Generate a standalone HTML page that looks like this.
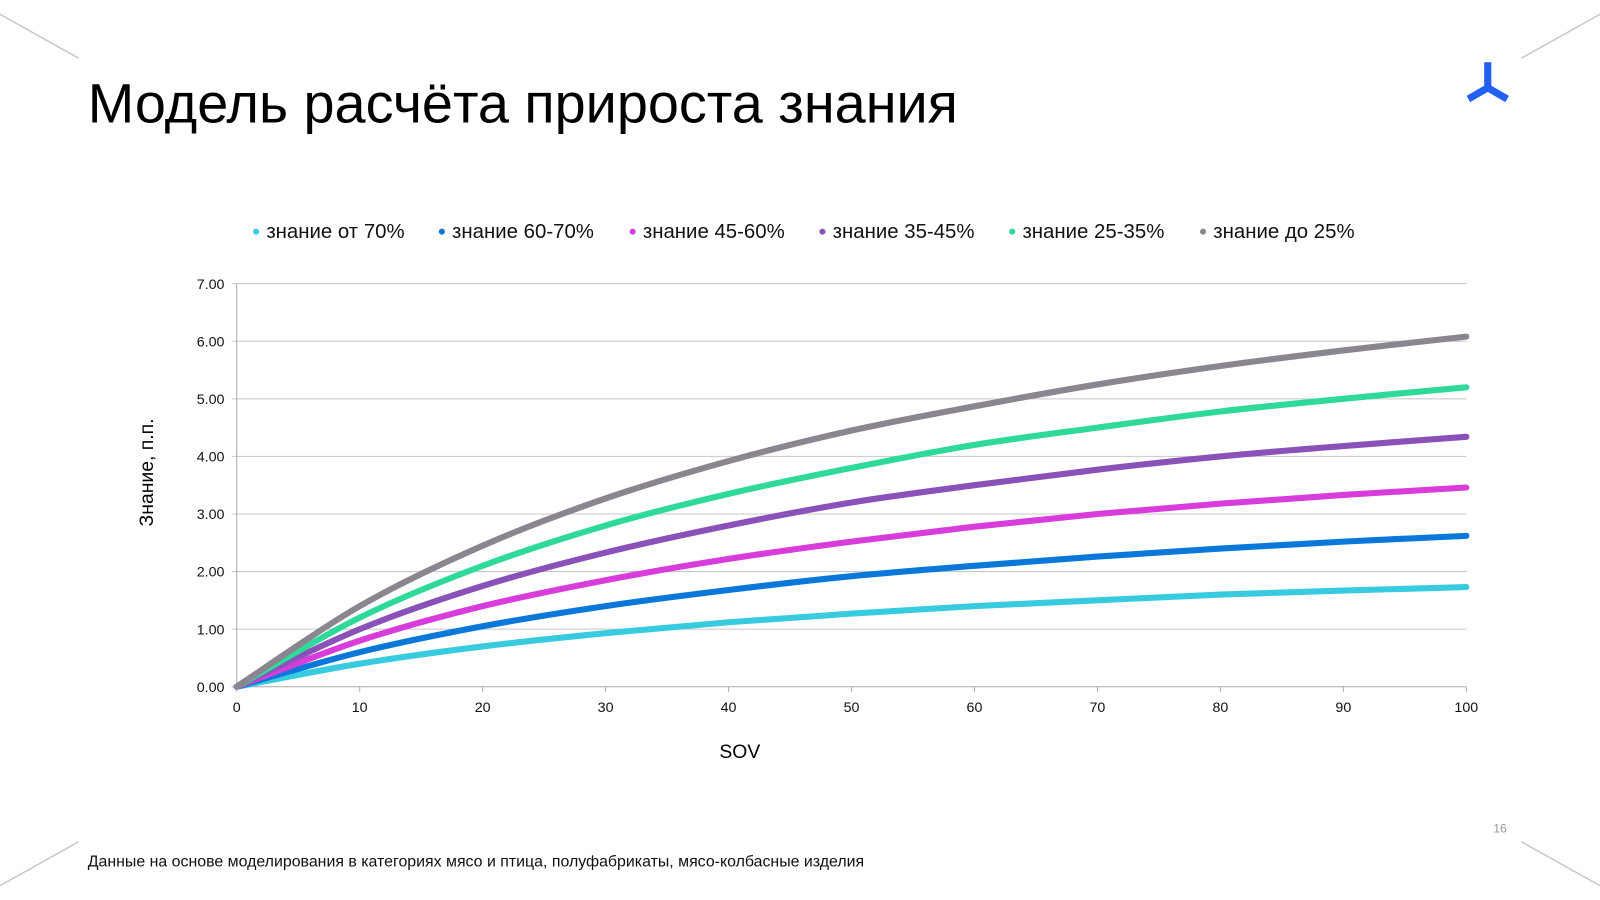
<!DOCTYPE html>
<html><head><meta charset="utf-8"><style>
body{margin:0;background:#fff;font-family:"Liberation Sans",sans-serif}
svg{display:block}
</style></head><body>
<svg width="1600" height="900" viewBox="0 0 1568 882">
<g stroke="#c8c8c8" stroke-width="1.5">
<line x1="0" y1="14" x2="77" y2="57"/><line x1="1568" y1="14" x2="1491" y2="57"/>
<line x1="0" y1="868" x2="77" y2="825"/><line x1="1568" y1="868" x2="1491" y2="825"/>
</g>
<text x="86" y="120" font-size="54.7" fill="#000">Модель расчёта прироста знания</text>
<g stroke="#2160f0" stroke-width="7" fill="none">
<line x1="1458" y1="61" x2="1458" y2="86"/><polyline points="1439,97 1458,86 1477,97"/>
</g>
<g id="legend" font-size="20" fill="#111"></g>
<g id="chart" font-size="14" fill="#111"></g>
<text x="150" y="463" font-size="19" transform="rotate(-90 150 463)" text-anchor="middle">Знание, п.п.</text>
<text x="725" y="743" font-size="19" text-anchor="middle">SOV</text>
<text x="1470" y="816" font-size="12" fill="#999" text-anchor="middle">16</text>
<text x="86" y="849" font-size="15.6" fill="#111">Данные на основе моделирования в категориях мясо и птица, полуфабрикаты, мясо-колбасные изделия</text>
</svg>
<script>
const xValues=[0,10,20,30,40,50,60,70,80,90,100];
const seriesNames=["знание от 70%","знание 60-70%","знание 45-60%","знание 35-45%","знание 25-35%","знание до 25%"];
const s70=[0,0.4,0.7,0.93,1.12,1.27,1.4,1.5,1.6,1.67,1.73];
const s6070=[0,0.6,1.05,1.4,1.68,1.92,2.1,2.26,2.4,2.52,2.62];
const s4560=[0,0.8,1.4,1.85,2.22,2.52,2.78,3.0,3.18,3.33,3.46];
const s3545=[0,1.0,1.75,2.33,2.8,3.2,3.5,3.77,4.0,4.18,4.34];
const s2535=[0,1.2,2.1,2.8,3.35,3.8,4.2,4.5,4.78,5.0,5.2];
const s25=[0,1.4,2.45,3.27,3.92,4.45,4.87,5.25,5.57,5.84,6.08];
const yTicks=[0,1,2,3,4,5,6,7];
const xTicks=[0,10,20,30,40,50,60,70,80,90,100];
const colors=["#38cbe0","#0a78d8","#d83ddc","#8a52b8","#2fd99a","#8a858f"];
const NS="http://www.w3.org/2000/svg";
const X=v=>232+v*12.05, Y=v=>673-v*56.43;
const chart=document.getElementById('chart');
function mk(t,a,p){const e=document.createElementNS(NS,t);for(const k in a)e.setAttribute(k,a[k]);(p||chart).appendChild(e);return e;}
yTicks.forEach(t=>{
 const l=mk('line',{x1:X(0)-5,x2:X(100),y1:Y(t),y2:Y(t),stroke:t?'#c8c8c8':'#aaa','stroke-width':1});
 
 
 const tx=mk('text',{x:X(0)-12,y:Y(t)+5,'text-anchor':'end'});tx.textContent=t.toFixed(2);
 
 
});
mk('line',{x1:X(0),x2:X(0),y1:Y(7),y2:Y(0),stroke:'#aaa'});
xTicks.forEach(t=>{
 mk('line',{x1:X(t),x2:X(t),y1:Y(0),y2:Y(0)+5,stroke:'#aaa'});
 const tx=mk('text',{x:X(t),y:Y(0)+25,'text-anchor':'middle'});tx.textContent=t;
 
 
});
const all=[s70,s6070,s4560,s3545,s2535,s25];
all.forEach((s,i)=>{
 const p=xValues.map((x,j)=>[X(x),Y(s[j])]);
 let d='M'+p[0][0]+','+p[0][1];
 for(let j=0;j<p.length-1;j++){const p0=p[j-1]||p[j],p1=p[j],p2=p[j+1],p3=p[j+2]||p2;
  d+=` C${p1[0]+(p2[0]-p0[0])/6},${p1[1]+(p2[1]-p0[1])/6} ${p2[0]-(p3[0]-p1[0])/6},${p2[1]-(p3[1]-p1[1])/6} ${p2[0]},${p2[1]}`;}
 const e=mk('path',{d,fill:'none',stroke:colors[i],'stroke-width':6,'stroke-linecap':'round'});
 
 
});
const lg=document.getElementById('legend');
const lx=[251,433,620,806,992,1179];
seriesNames.forEach((n,i)=>{
 const m=mk('circle',{cx:lx[i],cy:227,r:3,fill:colors[i]},lg);
 
 
 const t=mk('text',{x:lx[i]+10,y:233},lg);t.textContent=n;
 
 
});
</script>
</body></html>
